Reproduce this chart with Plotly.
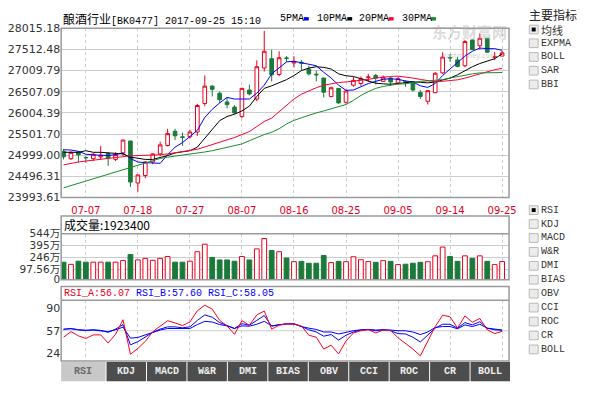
import plotly.graph_objects as go

# ---------------- data ----------------
dates = ["07-04","07-05","07-06","07-07","07-10","07-11","07-12","07-13","07-14","07-17",
         "07-18","07-19","07-20","07-21","07-24","07-25","07-26","07-27","07-28","07-31",
         "08-01","08-02","08-03","08-04","08-07","08-08","08-09","08-10","08-11","08-14",
         "08-15","08-16","08-17","08-18","08-21","08-22","08-23","08-24","08-25","08-28",
         "08-29","08-30","08-31","09-01","09-04","09-05","09-06","09-07","09-08","09-11",
         "09-12","09-13","09-14","09-15","09-18","09-19","09-20","09-21","09-22","09-25"]
tick_dates = ["07-07","07-18","07-27","08-07","08-16","08-25","09-05","09-14","09-25"]

open_ = [25091, 24915, 25076, 24945, 24915, 24960, 25037, 24899, 25053, 25336,
         24339, 24516, 24838, 25030, 25229, 25567, 25436, 25436, 25551, 26226,
         26640, 26472, 26265, 26142, 25919, 26548, 26334, 27070, 27292, 26917,
         27310, 27190, 27205, 27047, 26925, 26832, 26395, 26587, 26257, 26663,
         26702, 26850, 26893, 26755, 26832, 26717, 26745, 26740, 26487, 26280,
         26487, 26955, 27320, 27262, 27124, 27737, 27599, 27776, 27325, 27354]
close = [24961, 25068, 25007, 24938, 25022, 24999, 24930, 25014, 25359, 24362,
         24531, 24838, 25030, 25244, 25513, 25459, 25421, 25551, 26180, 26640,
         26564, 26318, 26203, 26004, 26587, 26456, 27101, 27469, 26909, 27315,
         27300, 27215, 27185, 26932, 26909, 26495, 26602, 26242, 26525, 26778,
         26817, 26855, 26832, 26855, 26740, 26817, 26735, 26548, 26395, 26533,
         26947, 27331, 27310, 27108, 27699, 27507, 27776, 27446, 27335, 27430]
high = [25145, 25092, 25091, 24976, 25053, 25221, 25068, 25068, 25367, 25340,
        24531, 24861, 25053, 25321, 25628, 25628, 25536, 25605, 26219, 26893,
        26663, 26510, 26375, 26187, 26602, 26679, 27254, 27952, 27507, 27469,
        27354, 27354, 27262, 27124, 27009, 26840, 26625, 26590, 26548, 26855,
        26871, 26932, 26932, 26893, 26855, 26855, 26778, 26755, 26548, 26533,
        26970, 27446, 27400, 27331, 27737, 27753, 27890, 27776, 27454, 27485]
low = [24899, 24884, 24823, 24823, 24861, 24899, 24746, 24861, 24976, 24247,
       24132, 24454, 24784, 24976, 25206, 25359, 25221, 25398, 25459, 26165,
       26395, 26242, 26111, 25973, 25881, 26418, 26280, 26986, 26755, 26878,
       27216, 27085, 27009, 26893, 26755, 26372, 26372, 26219, 26219, 26625,
       26648, 26740, 26679, 26740, 26648, 26679, 26625, 26510, 26334, 26203,
       26472, 26932, 27216, 27085, 27085, 27507, 27507, 27430, 27262, 27354]

ma5 = [25129, 25122, 25091, 25022, 25007, 24999, 24991, 25014, 25053, 24920,
       24838, 24823, 24807, 24807, 25010, 25190, 25298, 25436, 25590, 25896,
       26088, 26242, 26372, 26334, 26334, 26334, 26472, 26663, 26932, 27085,
       27216, 27231, 27200, 27162, 27124, 26970, 26832, 26663, 26541, 26548,
       26625, 26702, 26755, 26801, 26817, 26801, 26763, 26740, 26648, 26610,
       26702, 26893, 27047, 27200, 27354, 27469, 27545, 27530, 27530, 27492]
ma10 = [25068, 25076, 25068, 25106, 25068, 25068, 25060, 25053, 25030, 24953,
        24922, 24899, 24899, 24938, 24991, 25053, 25076, 25106, 25191, 25398,
        25628, 25820, 25919, 25973, 26050, 26165, 26395, 26587, 26648, 26725,
        26794, 26893, 27009, 27070, 27101, 27085, 27047, 26932, 26886, 26870,
        26817, 26755, 26709, 26694, 26686, 26702, 26725, 26740, 26732, 26717,
        26740, 26778, 26832, 26909, 27009, 27101, 27177, 27239, 27292, 27405]
ma20 = [24769, 24807, 24838, 24861, 24884, 24899, 24915, 24938, 24970, 24984,
        24990, 24995, 25000, 25010, 25030, 25055, 25080, 25105, 25140, 25195,
        25250, 25310, 25370, 25420, 25490, 25560, 25680, 25800, 25880, 26030,
        26180, 26334, 26449, 26533, 26602, 26663, 26702, 26725, 26740, 26755,
        26771, 26801, 26832, 26860, 26870, 26878, 26863, 26832, 26800, 26765,
        26745, 26755, 26770, 26790, 26830, 26880, 26935, 26990, 27030, 27062]
ma30 = [24224, 24278, 24332, 24385, 24439, 24493, 24546, 24600, 24654, 24708,
        24761, 24823, 24884, 24922, 24953, 24976, 24995, 25022, 25053, 25076,
        25106, 25145, 25183, 25221, 25267, 25344, 25421, 25490, 25544, 25628,
        25740, 25827, 25889, 25950, 26004, 26050, 26096, 26142, 26203, 26303,
        26418, 26510, 26587, 26633, 26665, 26690, 26694, 26725, 26755, 26763,
        26771, 26794, 26832, 26870, 26909, 26932, 26955, 26963, 26963, 26963]

# volume in 万 (10k shares)
volume = [185, 157, 197, 185, 185, 185, 185, 185, 205, 281,
          213, 233, 209, 233, 257, 185, 185, 197, 317, 412,
          245, 213, 213, 197, 257, 213, 353, 484, 333, 317,
          236.5, 191, 195, 171, 171, 269, 179, 195, 191, 253,
          216, 191, 183, 204, 195, 154, 159, 171, 183, 191,
          265, 376, 257, 195, 265, 232, 265, 195, 154, 192.34]

rsi_a = [47.4, 55.6, 49.4, 45.5, 50.8, 50.8, 38.8, 51.7, 73.3, 22.1,
         30.7, 41.2, 55.6, 63.7, 71.8, 68.5, 64.6, 69.9, 86.6, 94.8,
         89.0, 72.3, 64.2, 51.7, 71.8, 65.1, 80.4, 86.2, 59.4, 65.1,
         67.5, 66.6, 64.2, 50.3, 47.4, 29.8, 35.5, 22.6, 41.7, 53.7,
         57.0, 58.4, 53.7, 58.0, 57.5, 46.5, 38.4, 29.8, 19.7, 41.7,
         63.2, 80.0, 77.6, 60.8, 79.0, 69.4, 75.2, 58.4, 52.7, 56.07]
rsi_b = [58.9, 60.3, 58.4, 57.5, 58.4, 57.5, 54.6, 59.4, 66.1, 36.0,
         40.8, 48.0, 54.6, 59.4, 62.7, 62.7, 61.3, 62.7, 72.3, 80.4,
         77.1, 69.0, 65.1, 60.3, 67.5, 65.1, 72.3, 79.5, 63.7, 66.1,
         67.0, 67.0, 63.2, 58.4, 55.1, 48.9, 51.3, 43.1, 50.3, 55.1,
         58.0, 58.9, 57.0, 58.9, 57.0, 52.7, 52.2, 47.4, 40.3, 50.3,
         60.8, 66.6, 66.6, 60.8, 69.0, 65.6, 70.4, 60.8, 58.4, 57.60]
rsi_c = [59.4, 59.9, 58.4, 57.5, 58.0, 57.0, 55.6, 58.4, 62.3, 46.0,
         47.0, 50.8, 54.6, 58.0, 60.3, 60.3, 59.4, 60.3, 66.1, 70.9,
         69.9, 66.1, 64.2, 60.3, 64.2, 63.7, 66.6, 70.9, 64.2, 66.1,
         67.0, 67.5, 63.2, 60.8, 58.9, 55.1, 55.1, 52.2, 55.1, 57.0,
         58.4, 58.9, 58.0, 58.4, 58.0, 57.0, 57.0, 55.1, 51.3, 55.1,
         61.8, 63.2, 63.2, 59.9, 65.6, 63.2, 66.6, 60.8, 58.9, 58.05]

price_ticks = [23993.61, 24496.31, 24999.00, 25501.70, 26004.39, 26507.09, 27009.79, 27512.48, 28015.18]
vol_ticks = [97.56, 246, 395, 544]
vol_tick_text = ["97.56万", "246万", "395万", "544万"]
rsi_ticks = [24, 57, 90]
last_volume = 1923400
title_name = "酿酒行业"
title_code = "[BK0477] 2017-09-25 15:10"
ma_names = ["5PMA", "10PMA", "20PMA", "30PMA"]
main_indicators = ["均线", "EXPMA", "BOLL", "SAR", "BBI"]
sub_indicators = ["RSI", "KDJ", "MACD", "W&amp;R", "DMI", "BIAS", "OBV", "CCI", "ROC", "CR", "BOLL"]

# ---------------- style ----------------
W, H = 592, 398
RED = "#e8001c"
GREEN = "#1b7a3a"
MA_COLORS = ["#0000ff", "#000000", "#ff0033", "#15902a"]
RSI_RED = "#ff0022"
RSI_BLUE = "#0000ff"
GRID = "#cdcdcd"
BORDER = "#9a9a9a"
VOL_FLOOR = -38.0
MONO = "Liberation Mono"
SANS = "DejaVu Sans, Noto Sans CJK SC"
CJK = "Noto Sans CJK SC"


def px(x):
    return x / W


def py(y):
    return 1 - y / H


fig = go.Figure()

# moving averages
for name, vals, col in zip(ma_names, [ma5, ma10, ma20, ma30], MA_COLORS):
    fig.add_trace(go.Scatter(x=dates, y=vals, mode="lines", name=name,
                             line=dict(color=col, width=1), xaxis="x", yaxis="y",
                             hoverinfo="skip"))

# candles
fig.add_trace(go.Candlestick(
    x=dates, open=open_, high=high, low=low, close=close,
    increasing=dict(line=dict(color=RED, width=1), fillcolor="white"),
    decreasing=dict(line=dict(color=GREEN, width=1), fillcolor=GREEN),
    whiskerwidth=0, xaxis="x", yaxis="y", name="K"))

# volume
up = [c >= o for o, c in zip(open_, close)]
fig.add_trace(go.Bar(
    x=dates, y=[v - VOL_FLOOR for v in volume], base=VOL_FLOOR,
    marker=dict(color=["white" if u else GREEN for u in up],
                line=dict(color=[RED if u else GREEN for u in up], width=1)),
    width=0.64, xaxis="x2", yaxis="y2", name="VOL"))

# RSI
for vals, col in [(rsi_c, RSI_BLUE), (rsi_b, RSI_BLUE), (rsi_a, RSI_RED)]:
    fig.add_trace(go.Scatter(x=dates, y=vals, mode="lines", line=dict(color=col, width=1),
                             xaxis="x3", yaxis="y3", hoverinfo="skip"))

xdom = [px(62), px(516)]
xcommon = dict(domain=xdom, type="category", categoryorder="array", categoryarray=dates,
               range=[-0.32, 59.93], tickmode="array", tickvals=tick_dates,
               showgrid=True, gridcolor=GRID, gridwidth=1, griddash="3px,3px",
               zeroline=False, showline=False, fixedrange=True)

fig.update_layout(
    width=W, height=H, margin=dict(l=0, r=0, t=0, b=0),
    paper_bgcolor="white", plot_bgcolor="white", showlegend=False,
    xaxis=dict(**xcommon, anchor="y", rangeslider=dict(visible=False),
               ticks="outside", ticklen=3, tickcolor="rgba(0,0,0,0)",
               tickfont=dict(family=SANS, size=10, color=RED)),
    xaxis2=dict(**xcommon, anchor="y2", matches="x", showticklabels=False, ticks=""),
    xaxis3=dict(**xcommon, anchor="y3", matches="x", showticklabels=False, ticks=""),
    yaxis=dict(domain=[py(198), py(23)], range=[price_ticks[0], price_ticks[-1]],
               tickmode="array", tickvals=price_ticks,
               ticktext=["%.2f" % t for t in price_ticks],
               showgrid=True, gridcolor=GRID, zeroline=False, ticks="",
               tickfont=dict(family=SANS, size=11, color="#333333"), fixedrange=True),
    yaxis2=dict(domain=[py(283), py(235.5)], range=[VOL_FLOOR, vol_ticks[-1]],
                tickmode="array", tickvals=[VOL_FLOOR] + vol_ticks, ticktext=["0"] + vol_tick_text,
                showgrid=True, gridcolor=GRID, zeroline=False, ticks="",
                tickfont=dict(family=SANS, size=10.5, color="#333333"), fixedrange=True),
    yaxis3=dict(domain=[py(367), py(304.3)], range=[12.1, 102.0],
                tickmode="array", tickvals=rsi_ticks,
                showgrid=False, zeroline=False, ticks="",
                tickfont=dict(family=SANS, size=11, color="#333333"), fixedrange=True),
)

shapes = []
# panel borders
for (y0, y1) in [(23, 198), (217, 283), (290, 367)]:
    shapes.append(dict(type="rect", xref="paper", yref="paper", x0=px(62), x1=px(516),
                       y0=py(y1), y1=py(y0), line=dict(color=BORDER, width=1.5)))
for yy in [235.5, 304.3]:
    shapes.append(dict(type="line", xref="paper", yref="paper", x0=px(62), x1=px(516),
                       y0=py(yy), y1=py(yy), line=dict(color=BORDER, width=1.5)))
# RSI 57 reference line
shapes.append(dict(type="line", xref="x3 domain", yref="y3", x0=0, x1=1, y0=57, y1=57,
                   line=dict(color=GRID, width=1), layer="below"))

annotations = []
# title
annotations.append(dict(
    x=px(62), y=py(12.5), xref="paper", yref="paper", xanchor="left", yanchor="middle",
    showarrow=False,
    text="<span style='font-family:Noto Sans CJK SC;font-size:12px'>%s</span>%s" % (title_name, title_code),
    font=dict(family=MONO, size=10, color="#000000")))
# MA legend
leg_x = [282, 319, 362, 405]
sq_x = [308, 352, 394, 437]
for name, lx, sx, col in zip(ma_names, leg_x, sq_x, MA_COLORS):
    annotations.append(dict(x=px(lx), y=py(13), xref="paper", yref="paper", xanchor="left",
                            yanchor="middle", showarrow=False, text=name,
                            font=dict(family=MONO, size=10, color="#000000")))
    shapes.append(dict(type="rect", xref="paper", yref="paper", x0=px(sx), x1=px(sx + 5),
                       y0=py(15), y1=py(11.5), line=dict(width=0), fillcolor=col))
# watermark (single text block)
annotations.append(dict(x=px(476), y=py(36), xref="paper", yref="paper", xanchor="center",
                        yanchor="middle", showarrow=False, borderpad=0,
                        text="<b>东方财富网</b><br><span style='font-size:7px'><b>eastmoney.com</b></span>",
                        font=dict(family=CJK, size=15, color="rgba(160,160,160,0.4)")))
# volume header
annotations.append(dict(x=px(63), y=py(226), xref="paper", yref="paper", xanchor="left",
                        yanchor="middle", showarrow=False,
                        text="成交量:%d" % last_volume,
                        font=dict(family=CJK, size=12, color="#000000")))
# RSI header
annotations.append(dict(
    x=px(63), y=py(297), xref="paper", yref="paper", xanchor="left", yanchor="middle",
    showarrow=False,
    text="<span style='color:%s'>RSI_A:%.2f</span> <span style='color:%s'>RSI_B:%.2f</span> "
         "<span style='color:%s'>RSI_C:%.2f</span>" % (RED, rsi_a[-1], RSI_BLUE, rsi_b[-1], RSI_BLUE, rsi_c[-1]),
    font=dict(family=MONO, size=10)))

# right side panel
annotations.append(dict(x=px(535), y=py(9), xref="paper", yref="paper", xanchor="left",
                        yanchor="middle", showarrow=False, borderpad=0, text="主要指标",
                        font=dict(family=CJK, size=12, color="#222222")))


def checkbox(yc, label, checked):
    shapes.append(dict(type="rect", xref="paper", yref="paper", x0=px(536.5), x1=px(545.5),
                       y0=py(yc + 4.5), y1=py(yc - 4.5), fillcolor="#ececec",
                       line=dict(color="#b8b8b8", width=1)))
    if checked:
        shapes.append(dict(type="rect", xref="paper", yref="paper", x0=px(539), x1=px(543),
                           y0=py(yc + 2), y1=py(yc - 2), fillcolor="#000000", line=dict(width=0)))
    is_cjk = any(ord(ch) > 0x2E80 for ch in label)
    annotations.append(dict(x=px(547), y=py(yc + (0.5 if is_cjk else 0)), xref="paper", yref="paper",
                            xanchor="left", yanchor="middle", showarrow=False, borderpad=0,
                            text=label,
                            font=dict(family=CJK if is_cjk else MONO, size=11 if is_cjk else 10,
                                      color="#333333")))


for i, lab in enumerate(main_indicators):
    checkbox(24.3 + 14.2 * i, lab, i == 0)
for i, lab in enumerate(sub_indicators):
    checkbox(211 + 14.4 * i, lab, i == 0)

# bottom tabs
for i, lab in enumerate(sub_indicators):
    if i == 0:
        x0, x1, bg, fg = 62, 107, "#c8c8c8", "#6a6a6a"
    else:
        x0 = 108 + 41 * (i - 1)
        x1 = x0 + 40
        bg, fg = "#4d4d4d", "#eeeeee"
    shapes.append(dict(type="rect", xref="paper", yref="paper", x0=px(x0), x1=px(x1),
                       y0=py(388), y1=py(368), fillcolor=bg, line=dict(width=0)))
    annotations.append(dict(x=px((x0 + x1) / 2), y=py(378), xref="paper", yref="paper",
                            xanchor="center", yanchor="middle",
                            showarrow=False, text="<b>%s</b>" % lab,
                            font=dict(family=MONO, size=10, color=fg)))

fig.update_layout(shapes=shapes, annotations=annotations)

fig.write_html("out.html", config={"displayModeBar": False},
               post_script="document.body.style.margin='0';document.body.style.overflow='hidden';")
